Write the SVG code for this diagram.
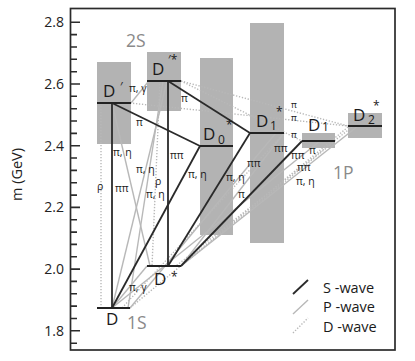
<svg xmlns="http://www.w3.org/2000/svg" width="415" height="361" viewBox="0 0 415 361">
<style>
.frame{fill:none;stroke:#2b2b2b;stroke-width:1.7}
.tick{stroke:#2b2b2b;stroke-width:1.6;fill:none}
.tl{font-family:"Open Sans","Liberation Sans",sans-serif;font-size:14px;fill:#222;text-anchor:end}
.band{fill:#b3b3b3}
.lvl{stroke:#222;stroke-width:2}
.s{stroke:#2a2a2a;stroke-width:1.8;fill:none}
.p{stroke:#b8b8b8;stroke-width:1.4;fill:none}
.d{stroke:#b8b8b8;stroke-width:1.4;stroke-dasharray:1.3 1.7;fill:none}
.lab{font-family:"Open Sans","Liberation Sans",sans-serif;font-size:10.5px;fill:#1a1a1a}
.sm{font-size:9px}
.nm{font-family:"Open Sans","Liberation Sans",sans-serif;font-size:17px;fill:#1a1a1a}
.sup{font-family:"Open Sans","Liberation Sans",sans-serif;font-size:12px;fill:#1a1a1a}
.grp{font-family:"Open Sans","Liberation Sans",sans-serif;font-size:17.5px;fill:#8a8a8a}
.leg{font-family:"Open Sans","Liberation Sans",sans-serif;font-size:14.5px;fill:#1a1a1a}
</style>

<g id="axes">
<rect class="frame" x="70.5" y="8.5" width="324.5" height="341.5"/>
<path class="tick" d="M70.5,22.3H80M70.5,84H80M70.5,145.7H80M70.5,207.4H80M70.5,269.1H80M70.5,330.8H80
M70.5,34.6H77M70.5,47H77M70.5,59.3H77M70.5,71.7H77
M70.5,96.3H77M70.5,108.7H77M70.5,121H77M70.5,133.4H77
M70.5,158H77M70.5,170.4H77M70.5,182.7H77M70.5,195.1H77
M70.5,219.7H77M70.5,232.1H77M70.5,244.4H77M70.5,256.8H77
M70.5,281.4H77M70.5,293.8H77M70.5,306.1H77M70.5,318.5H77M70.5,343.2H77"/>
<text class="tl" x="64" y="27.1">2.8</text>
<text class="tl" x="64" y="88.8">2.6</text>
<text class="tl" x="64" y="150.5">2.4</text>
<text class="tl" x="64" y="212.2">2.2</text>
<text class="tl" x="64" y="273.9">2.0</text>
<text class="tl" x="64" y="335.6">1.8</text>
<text transform="translate(22,174.5) rotate(-90)" text-anchor="middle" font-family="Open Sans, Liberation Sans, sans-serif" font-size="14.5" fill="#222">m (GeV)</text>
</g>

<g id="bands">
<rect class="band" x="97" y="62" width="34" height="82"/>
<rect class="band" x="147" y="52" width="34" height="59"/>
<rect class="band" x="200" y="58" width="33" height="177"/>
<rect class="band" x="250" y="23" width="34" height="220"/>
<rect class="band" x="302" y="133" width="33" height="15"/>
<rect class="band" x="348" y="113" width="34" height="25"/>
</g>

<g id="connectors">
<path class="d" d="M101,103V308"/>
<path class="d" d="M160,81L152,266"/>
<path class="d" d="M130,103L348,126"/>
<path class="d" d="M181,81L348,126"/>
<path class="d" d="M181,81L302,141"/>
<path class="d" d="M348,127L130,308"/>
<path class="d" d="M352,127L176,266"/>
<path class="d" d="M335,141L181,266"/>
<path class="d" d="M284,133L122,308"/>
<path class="p" d="M112,103L150,266"/>
<path class="p" d="M167,81L112,308"/>
<path class="p" d="M163,81L128,308"/>
<path class="p" d="M131,103L148,82"/>
<path class="p" d="M147,266L112,308"/>
<path class="p" d="M284,133L181,266"/>
<path class="p" d="M276,133L130,308"/>
<path class="p" d="M358,126L181,266"/>
<path class="p" d="M320,141L112,308"/>
<path class="s" d="M112,103V308"/>
<path class="s" d="M168,81V266"/>
<path class="s" d="M112,103L200,146"/>
<path class="s" d="M168,81L250,133"/>
<path class="s" d="M200,146L112,308"/>
<path class="s" d="M250,133L168,266"/>
<path class="s" d="M302,141L181,266"/>
</g>

<g id="transition-labels" class="lab">
<text x="115" y="192">ππ</text>
<text x="170" y="159">ππ</text>
<text x="136" y="126">π</text>
<text x="181" y="102">π</text>
<text x="188" y="178">π, η</text>
<text x="226" y="181">π, η</text>
<text x="238" y="198">π</text>
<text x="129" y="291">π, γ</text>
<text x="129" y="92">π, γ</text>
<text x="113" y="156">π, η</text>
<text x="136" y="173">π, η</text>
<text x="155" y="185">ρ</text>
<text x="146" y="198">π, η</text>
<text x="97" y="190">ρ</text>
<text x="247" y="167">ππ</text>
<text x="274" y="152">ππ</text>
<text x="291" y="159">ππ</text>
<text x="309" y="154">π</text>
<text x="297" y="171">ππ</text>
<text x="296" y="185">π, η</text>
<text class="sm" x="291" y="108">π</text>
<text class="sm" x="291" y="120.5">π</text>
<text class="sm" x="291" y="138">π</text>
</g>

<g id="D">
<line class="lvl" x1="97" y1="308" x2="130" y2="308"/>
<text class="nm" x="106" y="325">D</text>
</g>
<g id="Dstar">
<line class="lvl" x1="147" y1="266" x2="181" y2="266"/>
<text class="nm" x="154" y="285">D</text>
<text class="sup" x="171" y="281">*</text>
</g>
<g id="Dprime">
<line class="lvl" x1="97" y1="103" x2="131" y2="103"/>
<text class="nm" x="103" y="97">D</text>
<text class="sup" x="120" y="91">′</text>
</g>
<g id="Dprimestar">
<line class="lvl" x1="147" y1="81" x2="181" y2="81"/>
<text class="nm" x="152" y="75">D</text>
<text class="sup" x="168" y="64">′*</text>
</g>
<g id="D0star">
<line class="lvl" x1="200" y1="146" x2="233" y2="146"/>
<text class="nm" x="203" y="140">D</text>
<text class="sup" x="218" y="144">0</text>
<text class="sup" x="226" y="129">*</text>
</g>
<g id="D1star">
<line class="lvl" x1="250" y1="133" x2="284" y2="133"/>
<text class="nm" x="256" y="127">D</text>
<text class="sup" x="270" y="130">1</text>
<text class="sup" x="276" y="116">*</text>
</g>
<g id="D1">
<line class="lvl" x1="302" y1="141" x2="335" y2="141"/>
<text class="nm" x="308" y="131">D</text>
<text class="sup" x="322" y="131">1</text>
</g>
<g id="D2star">
<line class="lvl" x1="348" y1="126" x2="382" y2="126"/>
<text class="nm" x="353" y="121">D</text>
<text class="sup" x="368" y="124">2</text>
<text class="sup" x="373" y="110">*</text>
</g>

<g id="multiplets">
<text class="grp" x="126" y="46.5">2S</text>
<text class="grp" x="127" y="328.5">1S</text>
<text class="grp" x="333" y="178.5">1P</text>
</g>

<g id="legend">
<line class="s" x1="293" y1="294" x2="308" y2="280"/>
<line class="p" x1="293" y1="314" x2="308" y2="300"/>
<line class="d" x1="293" y1="333" x2="308" y2="318"/>
<text class="leg" x="323" y="292.5">S -wave</text>
<text class="leg" x="323" y="312">P -wave</text>
<text class="leg" x="323" y="331.5">D -wave</text>
</g>
</svg>
